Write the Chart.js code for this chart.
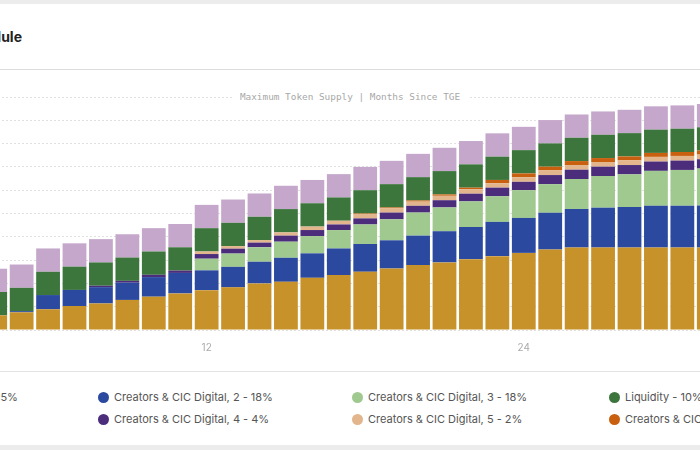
<!DOCTYPE html>
<html>
<head>
<meta charset="utf-8">
<script src="https://cdn.jsdelivr.net/npm/chart.js@4.4.1/dist/chart.umd.min.js"></script>
<style>
  html, body { margin: 0; padding: 0; width: 700px; height: 450px; overflow: hidden; background: #ececec; font-family: Inter, "Noto Sans", sans-serif; }
  #card { position: absolute; left: -10px; top: 4px; width: 720px; height: 441px; background: #fff; }
  #title { position: absolute; left: -300px; width: 322px; top: 28px; text-align: right; font-weight: 700; font-size: 14px; color: #222; white-space: nowrap; overflow: hidden; }
  .sep { position: absolute; left: 0; width: 700px; height: 1px; background: #dcdcdc; }
  #chartBox { position: absolute; left: -18px; top: 96px; width: 740px; height: 264px; }
  #supply { position: absolute; top: 90px; left: 232px; width: 236px; text-align: center; background: #fff; font-family: "DejaVu Sans Mono", monospace; font-size: 9.4px; color: #a8a8a8; line-height: 13px; white-space: nowrap; }
  .leg { position: absolute; height: 16px; display: flex; align-items: center; white-space: nowrap; font-size: 11px; color: #555; }
  .dot { width: 11px; height: 11px; border-radius: 50%; margin-right: 5px; flex: none; }
</style>
</head>
<body>
<div id="card"></div>
<div id="title">Token Release Schedule</div>
<div class="sep" style="top:69px"></div>
<div id="chartBox"><canvas id="c" width="740" height="264"></canvas></div>
<div id="supply">Maximum Token Supply | Months Since TGE</div>
<div class="sep" style="top:371px; background:#e4e4e4"></div>
<div id="legend"></div>
<script>
// Months since TGE (visible portion)
const months = [4,5,6,7,8,9,10,11,12,13,14,15,16,17,18,19,20,21,22,23,24,25,26,27,28,29,30,31];

// Percent of maximum token supply unlocked (stacked, bottom to top)
const creators1 = [6.3,7.6,8.9,10.3,11.4,12.9,14.3,15.7,17.1,18.3,20.0,20.7,22.4,23.6,25.0,26.4,27.9,29.0,30.4,31.7,33.1,34.6,35.4,35.4,35.4,35.4,35.4,35.4];
const creators2 = [0,0.5,6.1,6.9,7.0,7.4,8.4,8.8,8.5,8.8,9.3,10.3,10.5,11.4,11.9,12.1,12.6,13.4,13.8,14.7,15.0,15.7,16.5,17.1,17.4,17.9,17.9,18.0];
const creators3 = [0,0,0,0,0,0,0,0,5.0,5.7,6.2,6.9,7.4,7.9,8.4,9.0,9.9,10.2,11.0,11.0,11.9,12.3,12.9,13.6,14.0,15.0,15.4,15.9];
const creators4 = [0,0,0,0,0.6,0.8,1.0,1.0,2.0,2.1,2.0,2.6,2.6,2.4,2.6,2.9,2.9,3.1,3.3,3.7,3.6,3.9,4.0,4.0,4.0,4.0,4.0,4.0];
const creators5 = [0,0,0,0,0,0,0,0,1.1,1.1,1.1,1.4,1.5,1.6,1.7,1.8,1.8,1.9,1.9,1.9,2.0,2.0,2.0,2.0,2.0,2.0,2.0,2.0];
const creators6 = [0,0,0,0,0,0,0,0,0,0,0,0,0,0,0.4,0.4,0.5,0.6,0.7,1.4,1.6,1.6,1.7,1.7,1.7,1.7,1.7,1.7];
const liquidity = [10,10,10,10,10,10,10,10,10,10,10,10,10,10,10,10,10,10,10,10,10,10,10,10,10,10,10,10];
const ecosystem = [10,10,10,10,10,10,10,10,10,10,10,10,10,10,10,10,10,10,10,10,10,10,10,10,10,10,10,10];

const seriesNames = [
  "Creators & CIC Digital, 1 - 35%",
  "Creators & CIC Digital, 2 - 18%",
  "Creators & CIC Digital, 3 - 18%",
  "Creators & CIC Digital, 4 - 4%",
  "Creators & CIC Digital, 5 - 2%",
  "Creators & CIC Digital, 6 - 3%",
  "Liquidity - 10%",
  "Ecosystem - 10%"
];
const seriesColors = ["#c8922a","#2b4a9f","#9fc98f","#4b2d7b","#e2b58c","#c8600f","#3d763d","#c4a7ca"];
const seriesData = [creators1, creators2, creators3, creators4, creators5, creators6, liquidity, ecosystem];

// legend layout order (4 columns, row-major)
const legendOrder = [0,1,2,6,7,3,4,5];

const datasets = seriesData.map((d,i) => ({
  label: seriesNames[i],
  data: d,
  backgroundColor: seriesColors[i],
  borderWidth: 0,
  barPercentage: 0.9,
  categoryPercentage: 1.0
}));

new Chart(document.getElementById('c'), {
  type: 'bar',
  data: { labels: months.map(String), datasets },
  options: {
    responsive: false,
    animation: false,
    layout: { padding: { top: 1, left: 0, right: 0, bottom: 0 } },
    plugins: { legend: { display: false }, tooltip: { enabled: false } },
    scales: {
      x: {
        stacked: true,
        grid: { display: false, drawTicks: false },
        border: { display: false },
        ticks: {
          autoSkip: false, maxRotation: 0, padding: 12,
          color: '#ababab', font: { size: 10, family: 'Inter' },
          callback: function(v) { const m = months[v]; return m % 12 === 0 ? String(m) : ''; }
        },
        afterFit: s => { s.height = 30; }
      },
      y: {
        stacked: true, min: 0, max: 100,
        ticks: { display: false, stepSize: 10 },
        grid: { color: '#e0e0e0', lineWidth: 1, drawTicks: false },
        border: { display: false, dash: [2, 2] },
        afterFit: s => { s.width = 0; }
      }
    }
  }
});

// HTML legend
const leg = document.getElementById('legend');
const colX = [-157, 98, 352, 609];
const rowY = [389, 411];
legendOrder.forEach((idx, k) => {
  const r = Math.floor(k / 4), c = k % 4;
  const el = document.createElement('div');
  el.className = 'leg';
  el.style.left = colX[c] + 'px';
  el.style.top = rowY[r] + 'px';
  el.innerHTML = '<span class="dot" style="background:' + seriesColors[idx] + '"></span><span>' + seriesNames[idx] + '</span>';
  leg.appendChild(el);
});
</script>
</body>
</html>
